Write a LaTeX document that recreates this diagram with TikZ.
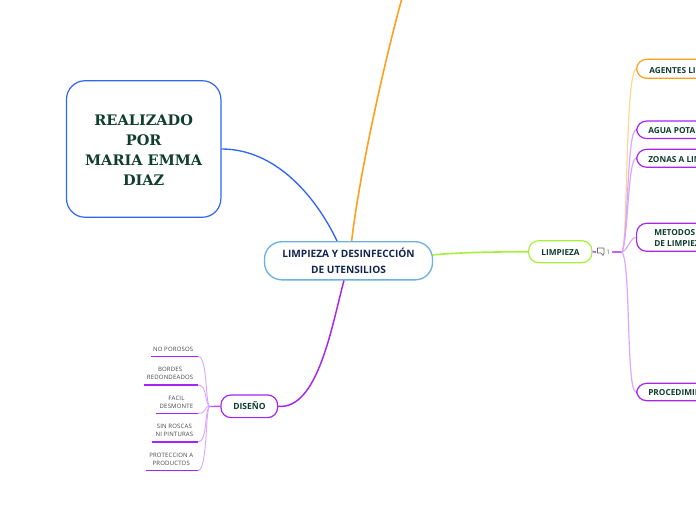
\documentclass[tikz,border=0pt]{standalone}
\usepackage{fontspec}
\setmainfont{Open Sans}
\newfontfamily\slabfont{DejaVu Serif}
\newfontfamily\leaffont[LetterSpace=3]{Open Sans}
\usetikzlibrary{calc}
\definecolor{inkgreen}{HTML}{0F3D2E}
\definecolor{inknavy}{HTML}{12264F}
\definecolor{leafink}{HTML}{444444}
\definecolor{purp}{HTML}{A624F5}
\definecolor{lightpurp}{HTML}{D8A8FF}
\definecolor{orng}{HTML}{FF9F1C}
\definecolor{lightorng}{HTML}{FFD596}
\definecolor{lime}{HTML}{A6F03C}
\definecolor{blu}{HTML}{2F66F5}
\definecolor{skyb}{HTML}{6DB1E2}
\tikzset{
  x=0.75pt,y=-0.75pt,
  pill/.style={rounded corners=7.5pt,line width=0.9pt,fill=white,inner sep=0pt,align=center,font=\bfseries\fontsize{6.2}{9}\selectfont,text=inkgreen},
  sidebox/.style={pill,draw=purp,anchor=west,minimum width=93pt,align=left,text width=83.5pt,inner xsep=4.75pt},
  sidetext/.style={inner sep=0pt,anchor=west,align=left,font=\bfseries\fontsize{6.2}{8.4}\selectfont,text=inkgreen},
  leaf/.style={inner sep=0pt,align=center,font=\leaffont\fontsize{4.5}{6}\selectfont,text=leafink,anchor=south east},
  lightbranch/.style={lightpurp,line width=0.9pt},
  leafbranch/.style={lightpurp,line width=0.7pt},
  under/.style={purp,line width=1.2pt},
}
\begin{document}
\begin{tikzpicture}
\useasboundingbox (0,0) rectangle (696,520);
\clip (0,0) rectangle (696,520);

% main nodes
\node[pill,draw=skyb,line width=1pt,rounded corners=13pt,minimum width=126pt,minimum height=28.6pt,text=inknavy,font=\bfseries\fontsize{7.6}{11.3}\selectfont] (core) at (348.5,260.8) {LIMPIEZA Y DESINFECCIÓN\\DE UTENSILIOS};
\node[pill,draw=blu,rounded corners=14pt,minimum width=115.8pt,minimum height=102.4pt] (author) at (143.7,149) {};
\node[inner sep=0pt,align=center,text=inkgreen,font=\slabfont\bfseries\fontsize{10.9}{15}\selectfont] (authortext) at (143.7,150.4) {REALIZADO\\POR\\MARIA EMMA\\DIAZ};
\node[pill,draw=lime,minimum width=47.5pt,minimum height=16.5pt] (limp) at (560.3,251.7) {};
\node[inner sep=0pt,font=\bfseries\fontsize{6.2}{9}\selectfont,text=inkgreen] (limpt) at (560.5,252.5) {LIMPIEZA};
\node[pill,draw=purp,minimum width=42.5pt,minimum height=17pt] (dis) at (249.3,406.3) {};
\node[inner sep=0pt,font=\bfseries\fontsize{6.4}{9}\selectfont,text=inkgreen] (dist) at (249.5,405.8) {DISEÑO};

% right column
\coordinate (hub) at (622,252);
\node[sidebox,draw=orng,minimum height=14.3pt] (agentes) at (636,68.8) {};
\node[sidebox,minimum height=13.2pt] (agua) at (636,129.8) {};
\node[sidebox,minimum height=13.5pt] (zonas) at (636,158.3) {};
\node[sidebox,minimum height=21pt] (metodos) at (636,237.3) {};
\node[sidebox,minimum height=13pt] (proc) at (636,392) {};
\node[sidetext] (agentest) at (649,70.7) {AGENTES LI};
\node[sidetext] (aguat) at (648,130.7) {AGUA POTAB};
\node[sidetext] (zonast) at (648,159.7) {ZONAS A LIM};
\node[sidetext] (metodost) at (654,238.3) {METODOS\\DE LIMPIEZ};
\node[sidetext] (proct) at (648,392.7) {PROCEDIMIE};

% comment marker
\coordinate (dot) at (596,252);
\coordinate (barstart) at (612,252);
\draw[purp!80!white,line width=1.2pt] (limp.east) -- (dot);
\draw[leafink!80!white,line width=0.5pt,line join=round] (597.5,248) -- (604,248) -- (604,253) -- (603,255.5) -- (601,253) -- (597.5,253) -- cycle;
\node[inner sep=0pt,font=\fontsize{4.8}{6}\selectfont,text=leafink!80!white] (count) at (608.3,252.3) {1};
\draw[purp!70!white,line width=1.5pt] (barstart) -- (hub);

% branches
\draw[lightorng,line width=0.9pt] (hub) .. controls (628,240) and (625,76) .. (agentes.west);
\draw[lightbranch] (hub) .. controls (628,240) and (627,130) .. (agua.west);
\draw[lightbranch] (hub) .. controls (628,240) and (628,158) .. (zonas.west);
\draw[lightbranch] (hub) .. controls (628,250) and (630,238) .. (metodos.west);
\draw[lightbranch] (hub) .. controls (631,264) and (626,392) .. (proc.west);

\draw[lime,line width=1.2pt] (core.4.7) .. controls (465,252) and (495,252) .. (limp.west);
\coordinate (top) at (402,-2);
\draw[orng,line width=1.2pt] (core.81) .. controls (360,170) and (385,60) .. (top);
\draw[blu,line width=1pt] (author.east) .. controls (275,149) and (315,195) .. (core.120);
\draw[purp,line width=1.1pt] (dis.east) .. controls (318,410) and (332,325) .. (core.257);

% left leaves
\coordinate (disjoint) at (210,406.5);
\draw[purp!80!white,line width=1pt] (dis.west) -- (disjoint);
\coordinate (u1a) at (151,356.5); \coordinate (u1b) at (198,356.5);
\coordinate (u2a) at (144,385); \coordinate (u2b) at (198,385);
\coordinate (u3a) at (156,413.5); \coordinate (u3b) at (198,413.5);
\coordinate (u4a) at (152,442); \coordinate (u4b) at (198,442);
\coordinate (u5a) at (146,470.5); \coordinate (u5b) at (198,470.5);
\draw[under] (u1a) -- (u1b);
\draw[under] (u2a) -- (u2b);
\draw[under] (u3a) -- (u3b);
\draw[under] (u4a) -- (u4b);
\draw[under] (u5a) -- (u5b);
\draw[leafbranch] (disjoint) .. controls (205,406) and (208,356) .. (u1b);
\draw[leafbranch] (disjoint) .. controls (204,404) and (208,385) .. (u2b);
\draw[leafbranch] (disjoint) .. controls (203,406) and (208,413) .. (u3b);
\draw[leafbranch] (disjoint) .. controls (204,408) and (208,442) .. (u4b);
\draw[leafbranch] (disjoint) .. controls (205,406) and (208,470) .. (u5b);

\node[leaf] (l1) at (193.5,351.5) {NO POROSOS};
\node[leaf] (l2) at (193.5,380.3) {BORDES\\REDONDEADOS};
\node[leaf] (l3) at (193.5,408.9) {FACIL\\DESMONTE};
\node[leaf] (l4) at (193.5,437.3) {SIN ROSCAS\\NI PINTURAS};
\node[leaf] (l5) at (193.5,465.9) {PROTECCION A\\PRODUCTOS};
\end{tikzpicture}
\end{document}
